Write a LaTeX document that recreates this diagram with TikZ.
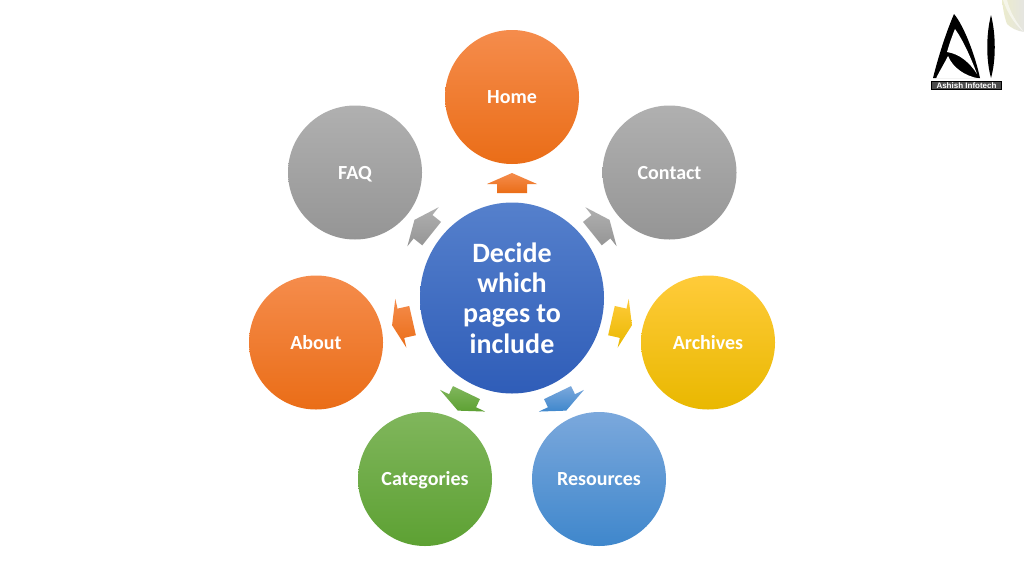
\documentclass[tikz,border=0pt]{standalone}
\usepackage{fontspec}
\setmainfont{Carlito}
\newfontfamily\logofont{Liberation Sans}
\usetikzlibrary{calc,shapes.geometric}
\definecolor{orA}{HTML}{F58C4C}\definecolor{orM}{HTML}{F17C2E}\definecolor{orB}{HTML}{EA6D17}
\definecolor{grA}{HTML}{B0B0B0}\definecolor{grM}{HTML}{A5A5A5}\definecolor{grB}{HTML}{959595}
\definecolor{yeA}{HTML}{FFCB3A}\definecolor{yeM}{HTML}{FFC60A}\definecolor{yeB}{HTML}{E9B800}
\definecolor{blA}{HTML}{7BA8DC}\definecolor{blM}{HTML}{5F9DD8}\definecolor{blB}{HTML}{3F87CC}
\definecolor{gnA}{HTML}{80B65C}\definecolor{gnM}{HTML}{6FAC45}\definecolor{gnB}{HTML}{5DA133}
\definecolor{cnA}{HTML}{5580CC}\definecolor{cnM}{HTML}{4470C2}\definecolor{cnB}{HTML}{2F5DB8}
\tikzset{
  x=1pt,y=-1pt,
  petal/.style args={#1/#2/#3}{circle,minimum size=134pt,inner sep=0pt,top color=#1,middle color=#2,bottom color=#3,
     text=white,text height=15pt,text depth=2pt,font=\fontsize{20}{22}\selectfont\bfseries},
  hub/.style={ellipse,minimum width=184pt,minimum height=191pt,inner sep=0pt,top color=cnA,middle color=cnM,bottom color=cnB,
     text=white,align=center,font=\fontsize{28}{30.3}\selectfont\bfseries},
}
% #1 angle (math, y up), #2 top colour, #3 bottom colour, #4 base radius, #5 tip radius
\newcommand{\blockarrow}[5]{%
  \pgfmathsetmacro{\ca}{cos(#1)}\pgfmathsetmacro{\sa}{-sin(#1)}% unit vector (y down)
  \pgfmathsetmacro{\pa}{-\sa}\pgfmathsetmacro{\pb}{\ca}% perpendicular
  \shade[top color=#2,bottom color=#3]
    ($(hub.center)+({#4*\ca+15*\pa},{#4*\sa+15*\pb})$) --
    ($(hub.center)+({114*\ca+15*\pa},{114*\sa+15*\pb})$) --
    ($(hub.center)+({114*\ca+25*\pa},{114*\sa+25*\pb})$) --
    ($(hub.center)+({#5*\ca},{#5*\sa})$) --
    ($(hub.center)+({114*\ca-25*\pa},{114*\sa-25*\pb})$) --
    ($(hub.center)+({114*\ca-15*\pa},{114*\sa-15*\pb})$) --
    ($(hub.center)+({#4*\ca-15*\pa},{#4*\sa-15*\pb})$) -- cycle;}
\begin{document}
\begin{tikzpicture}
\useasboundingbox (0,0) rectangle (1024,576);
\fill[white] (0,0) rectangle (1024,576);
\node[hub] (hub) at (512,298) {Decide\\which\\pages to\\include};
\node[petal=orA/orM/orB] (home) at (512,97) {Home};
\node[petal=grA/grM/grB] (contact) at (669.5,172.5) {Contact};
\node[petal=yeA/yeM/yeB] (archives) at (708,342.5) {Archives};
\node[petal=blA/blM/blB] (resources) at (599,479) {Resources};
\node[petal=gnA/gnM/gnB] (categories) at (425,479) {Categories};
\node[petal=orA/orM/orB] (about) at (316,342.5) {About};
\node[petal=grA/grM/grB] (faq) at (355,172.5) {FAQ};
\blockarrow{90}{orA}{orB}{105}{125}
\blockarrow{38.7}{grA}{grB}{103}{125}
\blockarrow{-12.8}{yeA}{yeB}{102}{123}
\blockarrow{-64.3}{blA}{blB}{105}{125}
\blockarrow{-115.7}{gnA}{gnB}{105}{125}
\blockarrow{-167.2}{orA}{orB}{102}{123}
\blockarrow{141.3}{grA}{grB}{103}{125}
% logo: letter A
\fill[black] (933,78) .. controls (940,50) and (948,28) .. (954,14)
  .. controls (964,26) and (975,55) .. (980,78) -- cycle;
\fill[white] (955,29) .. controls (952,36) and (949,45) .. (947,52)
  .. controls (960,54) and (970,63) .. (977,74)
  .. controls (971,58) and (963,40) .. (955,29) -- cycle;
\fill[white] (948,56) .. controls (944,64) and (939,72) .. (936,78.5)
  -- (979,78.5) .. controls (965,76) and (953,68) .. (948,56) -- cycle;
% logo: letter I
\fill[black] (991,15) .. controls (986,35) and (986,60) .. (991,78)
  .. controls (996,60) and (996,35) .. (991,15) -- cycle;
\node[draw=black,fill=black!70,line width=1pt,text=white,inner sep=0pt,minimum width=70pt,minimum height=8.5pt,
  font=\logofont\fontsize{8}{8}\selectfont\bfseries] (logo) at (966.5,85.5) {Ashish Infotech};
% corner curl
\shade[left color=black!38!yellow!20!white,right color=yellow!15!black!12!white] (1002,0) -- (1024,0) -- (1024,32) .. controls (1017,31) and (1011,28) .. (1007,24) .. controls (1004,16) and (1003,8) .. (1002,0) -- cycle;
\fill[white,opacity=.55] (1003,0) .. controls (1007,12) and (1014,24) .. (1024,32) .. controls (1016,22) and (1010,12) .. (1007,0) -- cycle;
\end{tikzpicture}
\end{document}
